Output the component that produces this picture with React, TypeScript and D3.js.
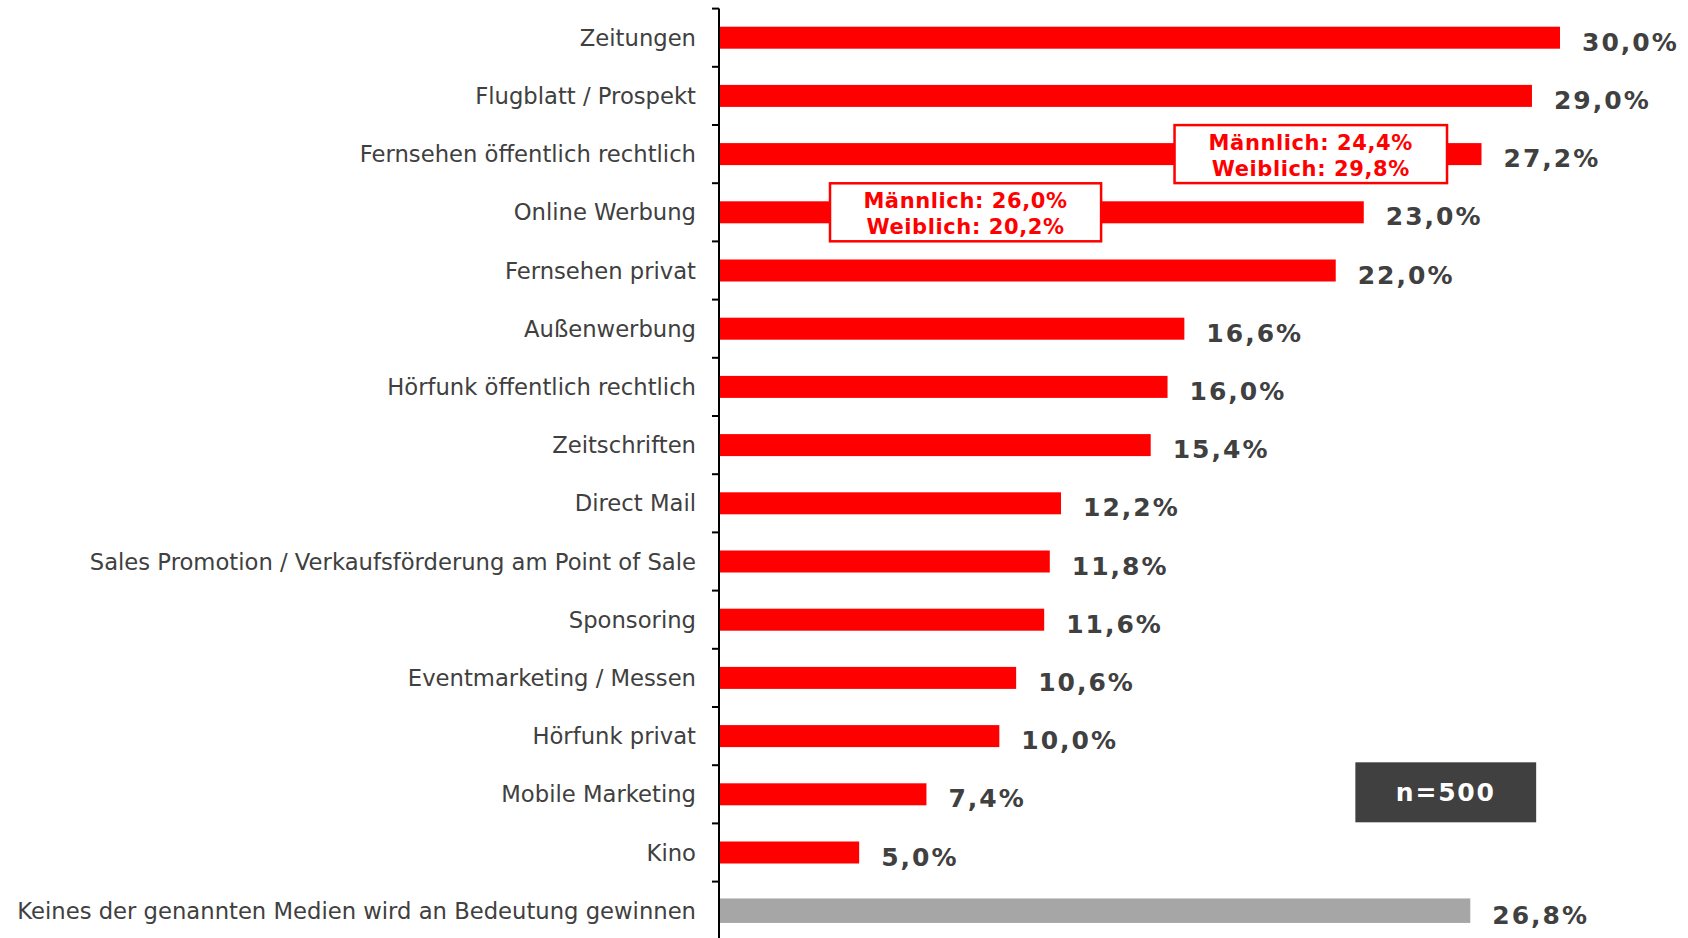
import React from "react";
import * as d3 from "d3";

const categories = [
  "Zeitungen",
  "Flugblatt / Prospekt",
  "Fernsehen öffentlich rechtlich",
  "Online Werbung",
  "Fernsehen privat",
  "Außenwerbung",
  "Hörfunk öffentlich rechtlich",
  "Zeitschriften",
  "Direct Mail",
  "Sales Promotion / Verkaufsförderung am Point of Sale",
  "Sponsoring",
  "Eventmarketing / Messen",
  "Hörfunk privat",
  "Mobile Marketing",
  "Kino",
  "Keines der genannten Medien wird an Bedeutung gewinnen",
];
const values = [30.0, 29.0, 27.2, 23.0, 22.0, 16.6, 16.0, 15.4, 12.2, 11.8, 11.6, 10.6, 10.0, 7.4, 5.0, 26.8];
const noneCategory = "Keines der genannten Medien wird an Bedeutung gewinnen";

const annotationCategories = ["Fernsehen öffentlich rechtlich", "Online Werbung"];
const annotationLines = [
  ["Männlich: 24,4%", "Weiblich: 29,8%"],
  ["Männlich: 26,0%", "Weiblich: 20,2%"],
];
const sampleNote = "n=500";

// layout
const W = 1688;
const H = 938;
const AXIS_X = 719;
const TOP = 8.6;
const STEP = 58.2;
const annotationBoxes = [
  { x0: 16.25, x1: 25.97 },
  { x0: 3.96, x1: 13.63 },
];
const noteBox = { x0: 22.7, x1: 29.15, band: "Mobile Marketing" };

const FONT = "'DejaVu Sans', sans-serif";

export default function App() {
  const x = d3.scaleLinear().domain([0, 30]).range([AXIS_X, 1560]);
  const y = d3
    .scaleBand<string>()
    .domain(categories)
    .range([TOP, TOP + STEP * categories.length])
    .paddingInner(0)
    .paddingOuter(0);
  const fmt = (v: number) => v.toFixed(1).replace(".", ",") + "%";
  const cy = (c: string) => (y(c) as number) + y.bandwidth() / 2;

  return (
    <svg
      width={W}
      height={H}
      style={{ position: "absolute", left: 0, top: 0, background: "#fff" }}
    >
      {/* bars */}
      {categories.map((c, i) => {
        const isNone = c === noneCategory;
        const h = isNone ? 24.5 : 22;
        return (
          <rect
            key={c}
            x={x(0)}
            y={cy(c) - h / 2}
            width={x(values[i]) - x(0)}
            height={h}
            fill={isNone ? "#A6A6A6" : "#FF0000"}
          />
        );
      })}
      {/* axis */}
      <line x1={AXIS_X} x2={AXIS_X} y1={TOP} y2={H + 5} stroke="#000" strokeWidth={2} />
      {categories.map((c) => (
        <line
          key={"t" + c}
          x1={AXIS_X - 7}
          x2={AXIS_X}
          y1={y(c) as number}
          y2={y(c) as number}
          stroke="#000"
          strokeWidth={2}
        />
      ))}
      {/* category labels */}
      {categories.map((c) => (
        <text
          key={"l" + c}
          x={696}
          y={cy(c) + 8}
          textAnchor="end"
          fontFamily={FONT}
          fontSize={22.7}
          fill="#404040"
        >
          {c}
        </text>
      ))}
      {/* value labels */}
      {categories.map((c, i) => (
        <text
          key={"v" + c}
          x={x(values[i]) + 22}
          y={cy(c) + 13}
          fontFamily={FONT}
          fontWeight="bold"
          fontSize={25}
          letterSpacing={2}
          fill="#404040"
        >
          {fmt(values[i])}
        </text>
      ))}
      {/* annotations */}
      {annotationCategories.map((c, i) => {
        const b = annotationBoxes[i];
        const x0 = x(b.x0);
        const x1 = x(b.x1);
        const m = cy(c);
        return (
          <g key={"a" + c}>
            <rect
              x={x0}
              y={m - 29}
              width={x1 - x0}
              height={58}
              fill="#fff"
              stroke="#FF0000"
              strokeWidth={2.5}
            />
            {annotationLines[i].map((t, j) => (
              <text
                key={t}
                x={(x0 + x1) / 2}
                y={m - 4 + j * 26}
                textAnchor="middle"
                fontFamily={FONT}
                fontWeight="bold"
                fontSize={21}
                letterSpacing={0.6}
                fill="#FF0000"
              >
                {t}
              </text>
            ))}
          </g>
        );
      })}
      {/* sample size box */}
      <g>
        <rect
          x={x(noteBox.x0)}
          y={cy(noteBox.band) - 32}
          width={x(noteBox.x1) - x(noteBox.x0)}
          height={60}
          fill="#404040"
        />
        <text
          x={(x(noteBox.x0) + x(noteBox.x1)) / 2}
          y={cy(noteBox.band) + 7}
          textAnchor="middle"
          fontFamily={FONT}
          fontWeight="bold"
          fontSize={25}
          letterSpacing={1.8}
          fill="#fff"
        >
          {sampleNote}
        </text>
      </g>
    </svg>
  );
}
